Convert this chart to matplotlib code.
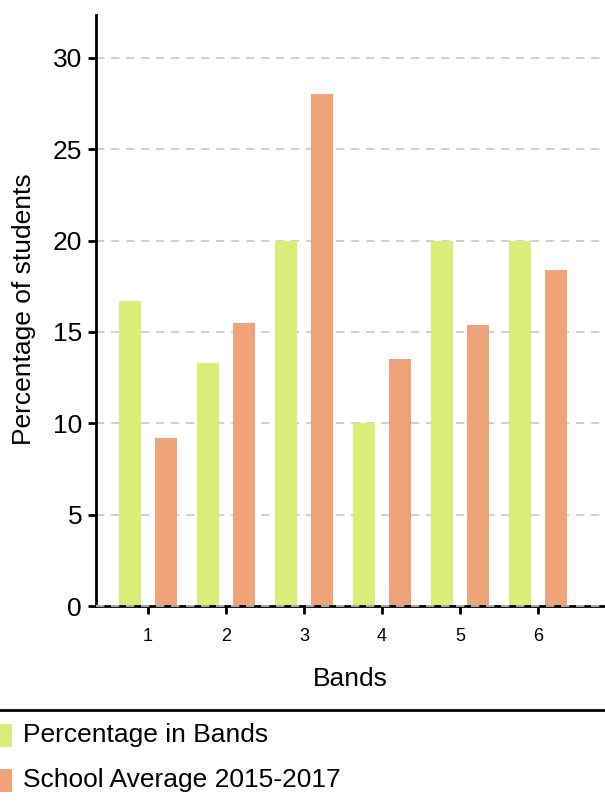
import numpy as np
import matplotlib.pyplot as plt
from matplotlib.patches import Rectangle
from matplotlib.lines import Line2D

plt.rcParams['font.family'] = ['Liberation Sans', 'DejaVu Sans']

bands = [1, 2, 3, 4, 5, 6]
pct_in_bands = [16.7, 13.3, 20, 10, 20, 20]
school_avg = [9.2, 15.5, 28, 13.5, 15.4, 18.4]
series_names = ['Percentage in Bands', 'School Average 2015-2017']
colors = ['#d8ee78', '#efa378']

W, H = 605, 801
fig = plt.figure(figsize=(W / 100, H / 100), dpi=100)
ax = fig.add_axes([96 / W, 1 - 606 / H, 1 - 96 / W, (606 - 15) / H])

x = np.array(bands)
w = 0.28
ax.bar(x - 0.235, pct_in_bands, w, color=colors[0], zorder=2)
ax.bar(x + 0.235, school_avg, w, color=colors[1], zorder=2)

ax.set_xlim(0.333, 6.86)
ax.set_ylim(0, 32.35)
ax.set_yticks([0, 5, 10, 15, 20, 25, 30])
ax.set_xticks(bands)
ax.tick_params(axis='y', labelsize=19, length=6, width=2, pad=4)
ax.tick_params(axis='x', labelsize=13, length=6, width=2, pad=10)

ax.grid(axis='y', color='#c8c8c8', linestyle=(0, (5, 4)), linewidth=1.2)
ax.axhline(0, color='#c8c8c8', linestyle=(0, (5, 4)), linewidth=1.2, zorder=4, clip_on=False)
for s in ['top', 'right']:
    ax.spines[s].set_visible(False)
ax.spines['left'].set_linewidth(2)
ax.spines['bottom'].set_linewidth(2)

ax.set_ylabel('Percentage of students', fontsize=19)
ax.yaxis.set_label_coords(-0.117, 0.503)
ax.set_xlabel('Bands', fontsize=19, labelpad=16)

# separator above legend
fig.add_artist(Line2D([0, 1], [1 - 710 / H, 1 - 710 / H], color='black', linewidth=2))

# legend drawn by hand (patch + text per series)
row_y = [735, 780]
for name, c, yy in zip(series_names, colors, row_y):
    fig.add_artist(Rectangle((0, 1 - (yy + 11.5) / H), 12 / W, 23 / H,
                             facecolor=c, edgecolor='none', transform=fig.transFigure))
    fig.text(23 / W, 1 - yy / H, name, fontsize=19, va='center', ha='left')

fig.savefig('out.png', dpi=100)
